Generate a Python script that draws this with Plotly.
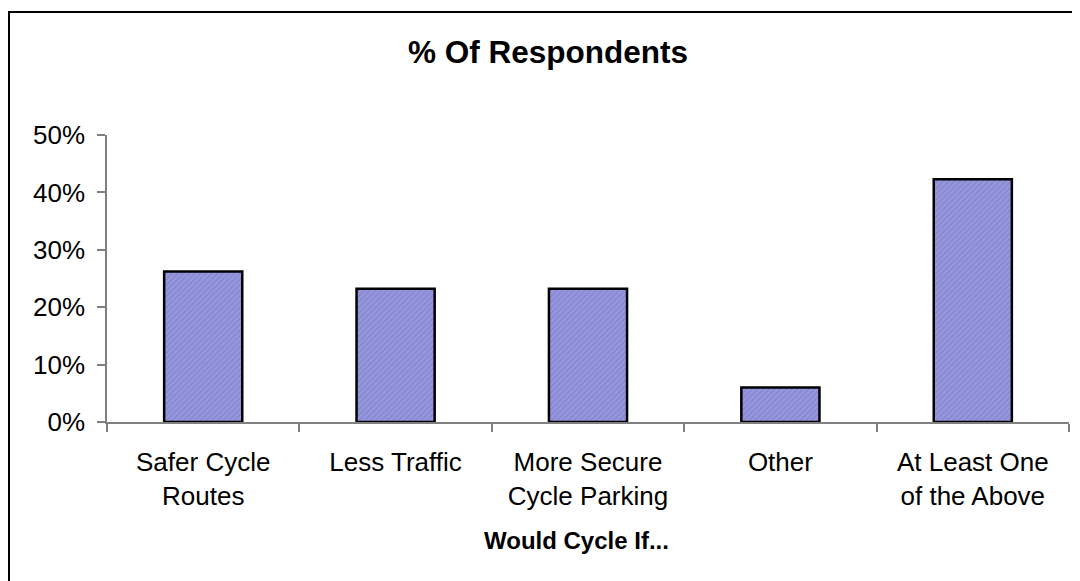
import plotly.graph_objects as go

categories = ["Safer Cycle<br>Routes", "Less Traffic", "More Secure<br>Cycle Parking",
              "Other", "At Least One<br>of the Above"]
values = [26.2, 23.2, 23.2, 6.0, 42.3]
y_ticks = [0, 10, 20, 30, 40, 50]
y_tick_labels = ["0%", "10%", "20%", "30%", "40%", "50%"]

# page has an 8px body margin; figure sized to fit the window
W, H = 1072, 573
L, R, T, B = 99, 11, 127, 159
pw, ph = W - L - R, H - T - B

fig = go.Figure()
fig.add_trace(go.Bar(
    x=categories, y=values,
    marker=dict(
        color="#8c8cd8",
        line=dict(color="black", width=2.5),
        pattern=dict(shape="/", fgcolor="#7474b8", bgcolor="#9797e0", size=4, solidity=0.35),
    ),
    hoverinfo="skip",
))

font = "Liberation Sans, Arial, sans-serif"
fig.update_layout(
    width=W, height=H,
    margin=dict(l=L, r=R, t=T, b=B, pad=0),
    paper_bgcolor="white", plot_bgcolor="white",
    bargap=0.594,
    showlegend=False,
    font=dict(family=font, color="black", size=26),
    title=dict(text="<b>% Of Respondents</b>", font=dict(size=31.5, family=font, color="black"),
               x=540 / W, xref="container", xanchor="center",
               y=1 - 44 / H, yref="container", yanchor="middle"),
    xaxis=dict(
        type="category", showgrid=False, zeroline=False,
        showline=True, linecolor="#808080", linewidth=1.5,
        ticks="outside", tickson="boundaries", ticklen=8, tickcolor="#808080", tickwidth=1.5,
        tickfont=dict(size=26, family=font, color="black"),
        ticklabelstandoff=16,
    ),
    yaxis=dict(
        range=[0, 50], tickvals=y_ticks, ticktext=y_tick_labels,
        showgrid=False, zeroline=False,
        showline=True, linecolor="#808080", linewidth=1.5,
        ticks="outside", ticklen=8, tickcolor="#808080", tickwidth=1.5,
        tickfont=dict(size=26, family=font, color="black"),
        ticklabelstandoff=7,
    ),
)

# x-axis title (placed slightly left of plot centre, as in the original)
fig.add_annotation(text="<b>Would Cycle If...</b>", xref="paper", yref="paper",
                   x=(568 - L) / pw, y=-(532 - (H - B)) / ph,
                   xanchor="center", yanchor="middle", showarrow=False,
                   font=dict(size=24, family=font, color="black"))

# outer chart border (extends past right and bottom edges)
fig.add_shape(type="rect", xref="paper", yref="paper",
              x0=(1 - L) / pw, x1=(W + 10 - L) / pw,
              y0=-(H + 10 - T - ph) / ph, y1=(H - B - 4) / ph,
              line=dict(color="black", width=2), fillcolor="rgba(0,0,0,0)", layer="below")

fig.write_html("out.html")
